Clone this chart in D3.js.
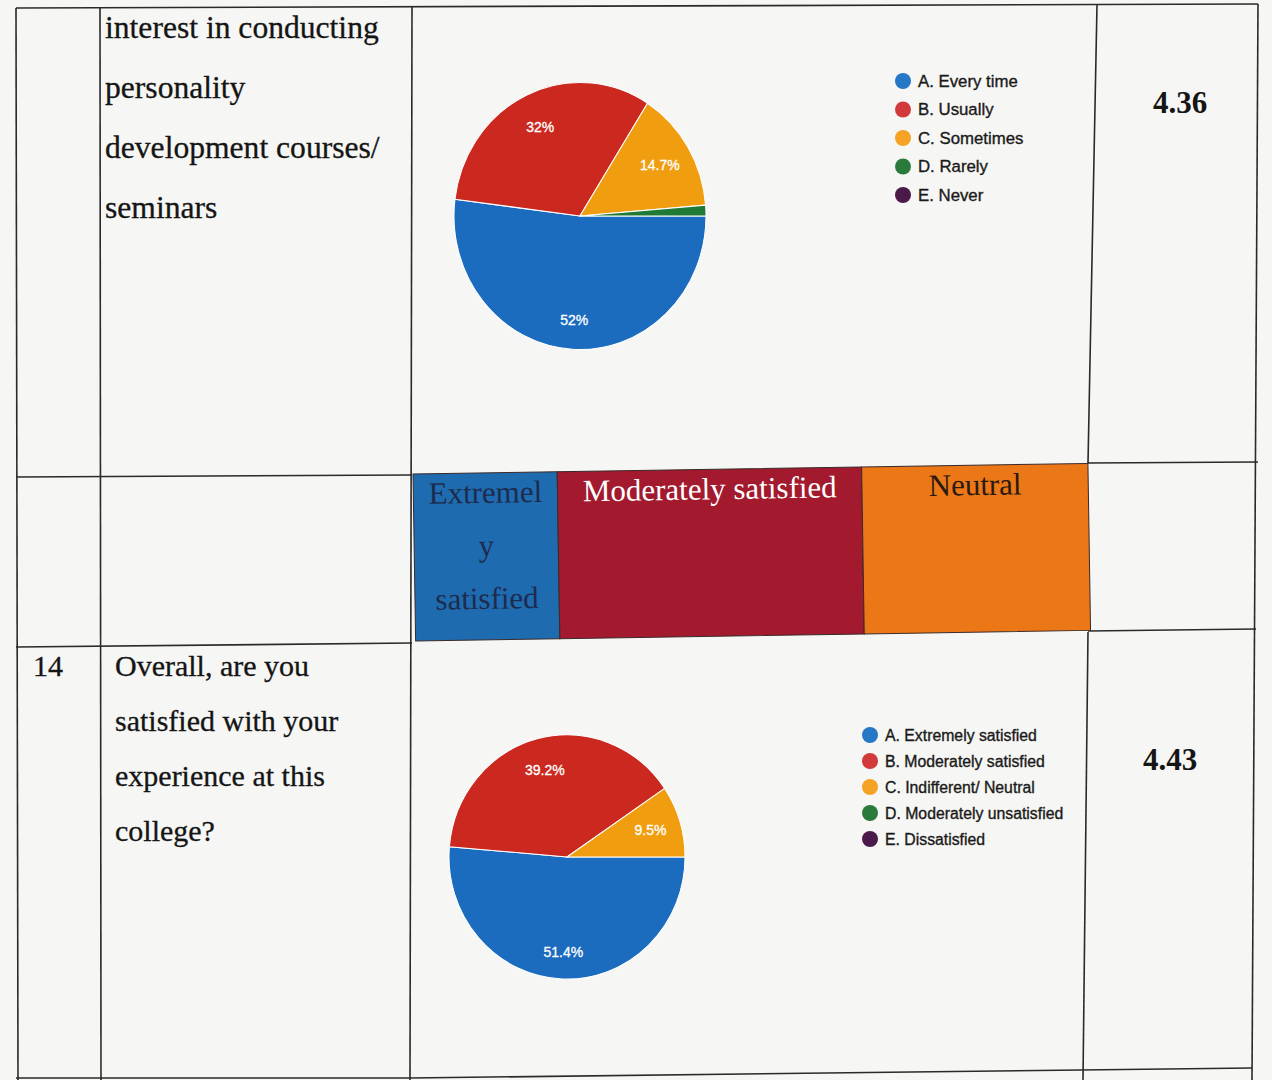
<!DOCTYPE html>
<html>
<head>
<meta charset="utf-8">
<script src="https://cdn.jsdelivr.net/npm/d3@7"></script>
<style>
  html, body { margin: 0; padding: 0; background: #f6f6f4; }
  svg { display: block; }
</style>
</head>
<body>
<svg id="chart" width="1272" height="1080"></svg>
<script>
// ---------------- data ----------------
const pie1Categories = ["A. Every time", "B. Usually", "C. Sometimes", "D. Rarely", "E. Never"];
const pie1Values = [52, 32, 14.7, 1.3, 0];
const pie1Labels = ["52%", "32%", "14.7%", "", ""];

const pie2Categories = ["A. Extremely satisfied", "B. Moderately satisfied", "C. Indifferent/ Neutral", "D. Moderately unsatisfied", "E. Dissatisfied"];
const pie2Values = [51.4, 39.2, 9.5, 0, 0];
const pie2Labels = ["51.4%", "39.2%", "9.5%", "", ""];

const question1Lines = ["interest in conducting", "personality", "development courses/", "seminars"];
const question2Lines = ["Overall, are you", "satisfied with your", "experience at this", "college?"];
const questionNumber2 = "14";
const meanScores = ["4.36", "4.43"];

const bandCategories = ["Extremely satisfied", "Moderately satisfied", "Neutral"];
const bandTextLines = [["Extremel", "y", "satisfied"], ["Moderately satisfied"], ["Neutral"]];

// ---------------- styles / layout ----------------
const sliceColors = ["#1b6cbf", "#cb281f", "#f09e10", "#1e7a34", "#4f1650"];
const legendColors = ["#2677c6", "#d2393a", "#f5a324", "#2a7a3c", "#4b1a4b"];
const bandColors = ["#1f6bb0", "#a3192d", "#ec7717"];
const bandTextColors = ["#1d2b4e", "#ffffff", "#2a1a12"];
const bandWeights = [144, 304, 226];

const svg = d3.select("#chart");
const serif = "'Liberation Serif', 'Times New Roman', serif";
const sans = "'Liberation Sans', Arial, sans-serif";

// ---- table grid lines (slightly skewed like the photographed page) ----
const gridLines = [
  [[16, 8], [1258, 4]],
  [[16, 8], [18, 1080]],
  [[100, 8], [101, 1080]],
  [[412, 6], [410, 1080]],
  [[1097, 5], [1088, 463]],
  [[1088, 632], [1083, 1080]],
  [[1258, 4], [1252, 1080]],
  [[16, 477], [412, 475]],
  [[1088, 463], [1258, 462]],
  [[16, 647], [412, 643]],
  [[1088, 631], [1256, 629]],
  [[16, 1078], [410, 1078]],
  [[410, 1078], [1252, 1068]]
];
svg.append("g").selectAll("line").data(gridLines).join("line")
  .attr("x1", d => d[0][0]).attr("y1", d => d[0][1])
  .attr("x2", d => d[1][0]).attr("y2", d => d[1][1])
  .attr("stroke", "#2a2a2a").attr("stroke-width", 1.6);

// ---- question texts ----
svg.append("g").selectAll("text").data(question1Lines).join("text")
  .attr("x", 105).attr("y", (d, i) => 38 + i * 60)
  .attr("font-family", serif).attr("font-size", 31.6).attr("fill", "#151515")
  .attr("stroke", "#151515").attr("stroke-width", 0.3)
  .text(d => d);

svg.append("g").selectAll("text").data(question2Lines).join("text")
  .attr("x", 115).attr("y", (d, i) => 676 + i * 55)
  .attr("font-family", serif).attr("font-size", 30).attr("fill", "#151515")
  .attr("stroke", "#151515").attr("stroke-width", 0.3)
  .text(d => d);

svg.append("text").attr("x", 33).attr("y", 676)
  .attr("font-family", serif).attr("font-size", 30).attr("fill", "#151515")
  .attr("stroke", "#151515").attr("stroke-width", 0.3)
  .text(questionNumber2);

// ---- scores ----
svg.append("g").selectAll("text").data(meanScores).join("text")
  .attr("x", (d, i) => [1180, 1170][i]).attr("y", (d, i) => [113, 770][i])
  .attr("text-anchor", "middle")
  .attr("font-family", serif).attr("font-size", 31).attr("font-weight", "bold").attr("fill", "#151515")
  .text(d => d);

// ---- pie charts ----
function drawPie(values, labels, categories, cfg) {
  const pie = d3.pie().sort(null).value(d => d)
    .startAngle(Math.PI / 2).endAngle(Math.PI / 2 + 2 * Math.PI);
  const arcs = pie(values);
  const arc = d3.arc().innerRadius(0).outerRadius(cfg.r);
  const labelArc = d3.arc().innerRadius(cfg.r * cfg.labelK).outerRadius(cfg.r * cfg.labelK);

  const g = svg.append("g")
    .attr("transform", `translate(${cfg.cx},${cfg.cy}) scale(1,${cfg.sy})`);
  g.selectAll("path").data(arcs).join("path")
    .attr("d", arc)
    .attr("fill", (d, i) => sliceColors[i])
    .attr("stroke", "#ffffff").attr("stroke-width", d => d.value > 0 ? 1 : 0);

  svg.append("g").selectAll("text").data(arcs).join("text")
    .attr("x", d => cfg.cx + labelArc.centroid(d)[0])
    .attr("y", d => cfg.cy + labelArc.centroid(d)[1] * cfg.sy + (labelArc.centroid(d)[1] > 0 ? 5 : 0))
    .attr("text-anchor", "middle").attr("dominant-baseline", "central")
    .attr("font-family", sans).attr("font-size", 14).attr("fill", "#ffffff")
    .attr("stroke", "#ffffff").attr("stroke-width", 0.3)
    .text((d, i) => labels[i]);

  const lg = svg.append("g");
  const items = lg.selectAll("g").data(categories).join("g")
    .attr("transform", (d, i) => `translate(${cfg.lx},${cfg.ly + i * cfg.lstep})`);
  items.append("circle").attr("r", 8).attr("fill", (d, i) => legendColors[i]);
  items.append("text").attr("x", 15).attr("y", 0)
    .attr("dominant-baseline", "central")
    .attr("font-family", sans).attr("font-size", cfg.lfont).attr("fill", "#1a1a1a")
    .attr("stroke", "#1a1a1a").attr("stroke-width", 0.35)
    .text(d => d);
}

drawPie(pie1Values, pie1Labels, pie1Categories,
  { cx: 580, cy: 216, r: 126, sy: 1.06, labelK: 0.74, lx: 903, ly: 81, lstep: 28.5, lfont: 16.8 });
drawPie(pie2Values, pie2Labels, pie2Categories,
  { cx: 567, cy: 857, r: 118, sy: 1.035, labelK: 0.74, lx: 870, ly: 735, lstep: 26, lfont: 15.8 });

// ---- coloured band row ----
const bandTotal = d3.sum(bandWeights);
const bandX = d3.scaleLinear().domain([0, bandTotal]).range([413, 1088]);
const cum = [0];
bandWeights.forEach((w, i) => cum.push(cum[i] + w));
const bandG = svg.append("g").attr("transform", "rotate(-0.9,413,474)");
bandG.selectAll("rect").data(bandCategories).join("rect")
  .attr("x", (d, i) => bandX(cum[i]))
  .attr("y", 474)
  .attr("width", (d, i) => bandX(cum[i + 1]) - bandX(cum[i]))
  .attr("height", 167)
  .attr("fill", (d, i) => bandColors[i])
  .attr("stroke", "#3a2a2a").attr("stroke-width", 1);

bandTextLines.forEach((lines, i) => {
  const cx = (bandX(cum[i]) + bandX(cum[i + 1])) / 2;
  bandG.append("g").selectAll("text").data(lines).join("text")
    .attr("x", cx).attr("y", (d, j) => 504 + j * 53)
    .attr("text-anchor", "middle")
    .attr("font-family", serif).attr("font-size", 31)
    .attr("fill", bandTextColors[i])
    .text(d => d);
});
</script>
</body>
</html>
